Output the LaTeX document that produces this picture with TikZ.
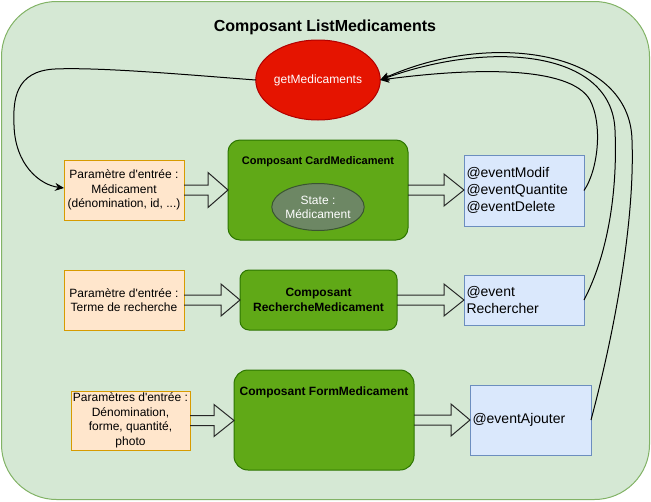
\documentclass[tikz,border=0pt]{standalone}
\usepackage{fontspec}
\setmainfont{Liberation Sans}[Ligatures=TeXOff]
\usetikzlibrary{calc,arrows.meta,shapes.geometric}
\definecolor{outerFill}{HTML}{D5E8D4}
\definecolor{outerLine}{HTML}{82B366}
\definecolor{redFill}{HTML}{E51400}
\definecolor{redLine}{HTML}{B20000}
\definecolor{inFill}{HTML}{FFE6CC}
\definecolor{inLine}{HTML}{D79B00}
\definecolor{compFill}{HTML}{60A917}
\definecolor{compLine}{HTML}{2D7600}
\definecolor{stateFill}{HTML}{6D8764}
\definecolor{stateLine}{HTML}{3A5431}
\definecolor{evFill}{HTML}{DAE8FC}
\definecolor{evLine}{HTML}{6C8EBF}
\tikzset{
  every node/.style={outer sep=0pt},
  outerbox/.style={draw=outerLine, fill=outerFill, line width=1pt, rounded corners=55pt,
    minimum width=648pt, minimum height=498pt, inner sep=0pt},
  redell/.style={ellipse, draw=redLine, fill=redFill, line width=1pt, text=white,
    minimum width=120pt, minimum height=80pt, inner sep=0pt, font=\fontsize{12}{14}\selectfont},
  inbox/.style={draw=inLine, fill=inFill, line width=1pt, inner sep=1pt, align=center,
    minimum width=120pt, minimum height=60pt, font=\fontsize{12}{14.6}\selectfont},
  comp/.style={draw=compLine, fill=compFill, line width=1pt, inner sep=1pt, align=center},
  stateell/.style={ellipse, draw=stateLine, fill=stateFill, line width=1pt, text=white, align=center,
    minimum width=90pt, minimum height=47pt, inner sep=0pt, font=\fontsize{12}{14}\selectfont},
  evbox/.style={draw=evLine, fill=evFill, line width=1pt, inner xsep=2.5pt, inner ysep=0pt,
    align=left, font=\fontsize{14}{17}\selectfont},
  barrow/.style={draw=black!85, line width=1pt, line join=miter},
  curve/.style={draw=black, line width=1pt, -{Stealth[length=9pt,width=8pt]}}
}
\newcommand\blockarr[4]{%
  \draw[barrow] let \p1=(#1.east), \p2=(#2.west) in
    (\x1,\y1+5pt) -- (\x2-#3,\y1+5pt) -- (\x2-#3,\y1+#4) -- (\x2,\y1)
    -- (\x2-#3,\y1-#4) -- (\x2-#3,\y1-5pt) -- (\x1,\y1-5pt);}
\begin{document}
\begin{tikzpicture}[x=1pt,y=-1pt]
\useasboundingbox (0,0) rectangle (651,501);
\node[outerbox] (outer) at (325.5,250.5) {};
\node[font=\bfseries\fontsize{16}{19}\selectfont] (title) at (325,27) {Composant ListMedicaments};
\node[redell] (getmed) at (318,80) {getMedicaments};
% row 1
\node[inbox] (in1) at (124,190) {Paramètre d'entrée :\\Médicament\\(dénomination, id, ...)};
\node[comp, rounded corners=12pt, minimum width=180pt, minimum height=100pt] (card) at (318,190) {};
\node[font=\bfseries\fontsize{11}{13}\selectfont] (cardT) at (318,162) {Composant CardMedicament};
\node[stateell] (state) at (318,207) {State :\\Médicament};
\node[evbox, text width=115pt, minimum height=71pt] (ev1) at (524,190.5) {@eventModif\\@eventQuantite\\@eventDelete};
% row 2
\node[inbox] (in2) at (124,300) {Paramètre d'entrée :\\Terme de recherche};
\node[comp, rounded corners=9pt, minimum width=157pt, minimum height=60pt,
  font=\bfseries\fontsize{12}{15}\selectfont] (rech) at (318.5,300) {Composant\\RechercheMedicament};
\node[evbox, text width=115pt, minimum height=50pt] (ev2) at (524,300) {@event\\Rechercher};
% row 3
\node[inbox, minimum width=119pt, minimum height=59pt] (in3) at (130.5,420.5) {Paramètres d'entrée :\\Dénomination,\\forme, quantité,\\photo};
\node[comp, rounded corners=14pt, minimum width=180pt, minimum height=100pt] (form) at (324,420) {};
\node[font=\bfseries\fontsize{12}{14}\selectfont] (formT) at (324,392) {Composant FormMedicament};
\node[evbox, text width=116pt, minimum height=70pt] (ev3) at (530.5,420) {@eventAjouter};
% block arrows
\blockarr{in1}{card}{20pt}{17.5pt}
\blockarr{card}{ev1}{20pt}{16pt}
\blockarr{in2}{rech}{19pt}{16pt}
\blockarr{rech}{ev2}{20pt}{16pt}
\blockarr{in3}{form}{20pt}{16pt}
\blockarr{form}{ev3}{19pt}{16pt}
% curved connectors
\draw[curve] (getmed.west) .. controls (190,75) and (100,67) .. (55,69)
  .. controls (15,71) and (13,100) .. (14,125)
  .. controls (15,165) and (40,185) .. ($(in1.west)+(0,-2)$);
\draw[curve] (ev1.east) .. controls (598,170) and (603,125) .. (590,100)
  .. controls (570,65) and (470,68) .. (getmed.east);
\draw[curve] (ev2.east) .. controls (605,260) and (618,200) .. (615,130)
  .. controls (612,50) and (490,40) .. (getmed.east);
\draw[curve] (ev3.east) .. controls (615,330) and (635,220) .. (632,140)
  .. controls (630,50) and (490,30) .. (getmed.east);
\end{tikzpicture}
\end{document}
